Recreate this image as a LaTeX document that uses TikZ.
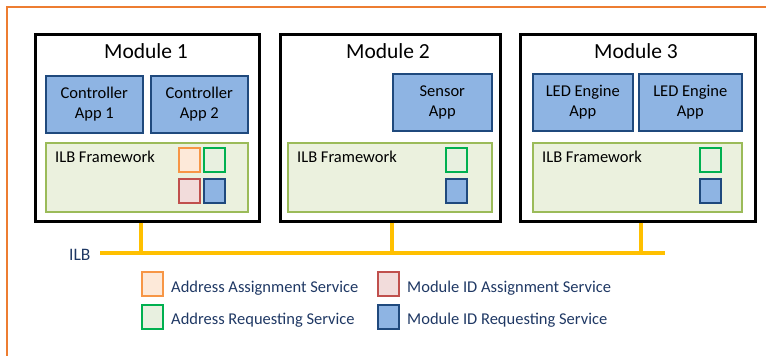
\documentclass[tikz,border=0pt]{standalone}
\usepackage{fontspec}
\setmainfont{Carlito}
\usetikzlibrary{positioning}

\definecolor{appfill}{HTML}{8EB4E3}
\definecolor{appline}{HTML}{1F497D}
\definecolor{fwfill}{HTML}{EBF1DE}
\definecolor{fwline}{HTML}{9BBB59}
\definecolor{busline}{HTML}{FFC000}
\definecolor{navy}{HTML}{1F3864}
\definecolor{frameline}{HTML}{ED7D31}
\definecolor{aasline}{HTML}{F79646}
\definecolor{aasfill}{HTML}{FDE9D9}
\definecolor{arsline}{HTML}{00B050}
\definecolor{arsfill}{HTML}{E8F0E0}
\definecolor{misline}{HTML}{C0504D}
\definecolor{misfill}{HTML}{F2DCDB}

\begin{document}
\begin{tikzpicture}[
    x=1pt, y=-1pt,
    module/.style={draw=black, line width=2.5pt, fill=white, inner sep=0pt, anchor=north west},
    title/.style={anchor=base, font=\fontsize{21.5}{24}\selectfont},
    app/.style={draw=appline, line width=1.6pt, fill=appfill, inner sep=0pt, anchor=north west,
                align=center, font=\fontsize{16.5}{19.5}\selectfont},
    fw/.style={draw=fwline, line width=1.6pt, fill=fwfill, inner sep=0pt, anchor=north west},
    fwtext/.style={anchor=base west, inner sep=0pt, font=\fontsize{16.5}{19}\selectfont},
    sq/.style={line width=1.5pt, inner sep=0pt, anchor=north west,
               minimum width=21pt, minimum height=24pt},
    aas/.style={sq, draw=aasline, fill=aasfill},
    ars/.style={sq, draw=arsline, fill=arsfill},
    mis/.style={sq, draw=misline, fill=misfill},
    mrs/.style={sq, draw=appline, fill=appfill},
    legend/.style={anchor=base west, inner sep=0pt, text=navy, font=\fontsize{16.5}{19}\selectfont},
    bus/.style={draw=busline, line width=3.5pt}
]
\useasboundingbox (0,0) rectangle (766,356);

% Frame
\draw[frameline, line width=1.5pt] (7,356) -- (7,7) -- (766,7);

% Module 1
\node[module, minimum width=224pt, minimum height=187pt] (m1) at (34,33) {};
\node[title] (m1title) at (146,58) {Module 1};
\node[app, minimum width=97pt, minimum height=57pt] (ctrl1) at (45,75) {Controller\\App 1};
\node[app, minimum width=97pt, minimum height=57pt] (ctrl2) at (150,75) {Controller\\App 2};
\node[fw, minimum width=202pt, minimum height=69pt] (fw1) at (45,142) {};
\node[fwtext] (fw1text) at (55,162) {ILB Framework};
\node[aas] (aas1) at (178,147) {};
\node[ars] (ars1) at (203,147) {};
\node[mis] (mis1) at (178,178) {};
\node[mrs] (mrs1) at (203,178) {};

% Module 2
\node[module, minimum width=220pt, minimum height=187pt] (m2) at (279,33) {};
\node[title] (m2title) at (388,58) {Module 2};
\node[app, minimum width=99pt, minimum height=57pt] (sensor) at (392,73) {Sensor\\App};
\node[fw, minimum width=204pt, minimum height=69pt] (fw2) at (287,142) {};
\node[fwtext] (fw2text) at (297,162) {ILB Framework};
\node[ars] (ars2) at (445,147) {};
\node[mrs] (mrs2) at (445,178) {};

% Module 3
\node[module, minimum width=235pt, minimum height=187pt] (m3) at (519,33) {};
\node[title] (m3title) at (636,58) {Module 3};
\node[app, minimum width=100pt, minimum height=57pt] (led1) at (532,73) {LED Engine\\App};
\node[app, minimum width=103pt, minimum height=57pt] (led2) at (638,73) {LED Engine\\App};
\node[fw, minimum width=209pt, minimum height=69pt] (fw3) at (532,142) {};
\node[fwtext] (fw3text) at (542,162) {ILB Framework};
\node[ars] (ars3) at (699,147) {};
\node[mrs] (mrs3) at (699,178) {};

% Bus
\node[anchor=base west, inner sep=0pt, text=navy, font=\fontsize{17.5}{20}\selectfont] (ilb) at (69,260) {ILB};
\coordinate (busL) at (100,253);
\coordinate (busR) at (665,253);
\coordinate (t1) at (141,253);
\coordinate (t2) at (392,253);
\coordinate (t3) at (641,253);
\draw[bus] (busL) -- (busR);
\draw[bus] (t1 |- m1.south) -- (t1);
\draw[bus] (t2 |- m2.south) -- (t2);
\draw[bus] (t3 |- m3.south) -- (t3);

% Legend
\node[aas] (laas) at (141,271) {};
\node[legend] (taas) at (171,292) {Address Assignment Service};
\node[ars] (lars) at (141,304) {};
\node[legend] (tars) at (171,324) {Address Requesting Service};
\node[mis] (lmis) at (377,271) {};
\node[legend] (tmis) at (407,292) {Module ID Assignment Service};
\node[mrs] (lmrs) at (377,304) {};
\node[legend] (tmrs) at (407,324) {Module ID Requesting Service};

\end{tikzpicture}
\end{document}
